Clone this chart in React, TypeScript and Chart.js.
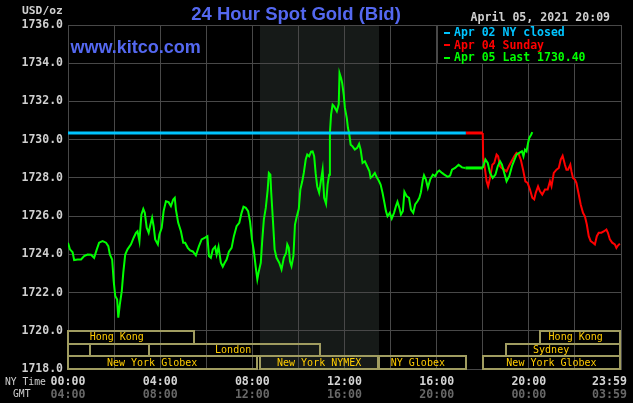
import React, { useEffect, useRef } from "react";
import { Chart, registerables } from "chart.js";

Chart.register(...registerables);

// ---- data (minutes after 00:00 NY time, price in USD/oz) ----
const cyanTimes = [0, 1036];
const cyanPrices = [1730.35, 1730.35];

const greenTimes = [
  0, 5, 12, 16, 25, 34, 42, 51, 60, 68, 75, 81, 90, 99, 105, 109, 115, 119, 123, 128,
  131, 135, 140, 144, 149, 155, 164, 171, 177, 181, 186, 191, 196, 200, 205, 210, 214, 219, 223, 227,
  234, 238, 244, 249, 255, 262, 268, 274, 278, 281, 287, 294, 300, 305, 312, 318, 325, 333, 341, 348,
  357, 363, 367, 372, 377, 383, 387, 392, 398, 403, 408, 413, 419, 426, 432, 439, 446, 452, 457, 463,
  469, 474, 479, 484, 489, 493, 497, 502, 506, 510, 515, 520, 523, 527, 529, 534, 538, 543, 550, 556,
  562, 568, 571, 575, 578, 582, 587, 591, 595, 601, 605, 610, 614, 619, 623, 628, 633, 637, 641, 645,
  649, 654, 659, 663, 667, 672, 676, 680, 682, 685, 689, 693, 700, 705, 707, 711, 714, 718, 721, 726,
  729, 732, 736, 741, 747, 753, 758, 762, 767, 773, 779, 785, 788, 793, 799, 804, 809, 814, 819, 824,
  828, 832, 838, 843, 849, 854, 858, 863, 867, 872, 876, 882, 888, 893, 899, 904, 910, 915, 919, 924,
  927, 932, 937, 943, 950, 956, 962, 967, 974, 980, 989, 995, 1000, 1008, 1017, 1026, 1035, 1080, 1087, 1093,
  1099, 1106, 1113, 1119, 1125, 1130, 1136, 1142, 1149, 1156, 1162, 1168, 1175, 1182, 1186, 1190, 1194, 1198, 1201, 1206,
  1209,
];
const greenPrices = [
  1724.61, 1724.26, 1724.11, 1723.7, 1723.73, 1723.73, 1723.91, 1723.99, 1723.98, 1723.82, 1724.26, 1724.61, 1724.69, 1724.61, 1724.43, 1723.99, 1723.73, 1722.6, 1721.82, 1721.64,
  1720.69, 1721.38, 1722.08, 1723.04, 1723.99, 1724.26, 1724.52, 1724.87, 1725.13, 1725.21, 1724.69, 1726.08, 1726.38, 1726.17, 1725.39, 1725.13, 1725.51, 1725.91, 1725.47, 1724.78,
  1724.52, 1725.04, 1725.39, 1726.26, 1726.78, 1726.73, 1726.52, 1726.87, 1726.96, 1726.34, 1725.65, 1725.21, 1724.61, 1724.61, 1724.34, 1724.2, 1724.15, 1723.94, 1724.43, 1724.78,
  1724.87, 1724.95, 1723.91, 1723.82, 1724.26, 1724.4, 1723.99, 1724.4, 1723.56, 1723.35, 1723.56, 1723.73, 1724.14, 1724.34, 1724.95, 1725.47, 1725.65, 1726.17, 1726.49, 1726.43,
  1726.26, 1725.73, 1724.78, 1724.17, 1723.3, 1722.69, 1723.12, 1723.56, 1724.78, 1725.82, 1726.43, 1727.39, 1728.26, 1728.17, 1727.3, 1725.65, 1724.26, 1723.82, 1723.56, 1723.21,
  1723.82, 1724.08, 1724.52, 1724.34, 1723.64, 1723.38, 1723.91, 1725.56, 1725.91, 1726.38, 1727.39, 1727.82, 1728.26, 1728.96, 1729.22, 1729.13, 1729.37, 1729.39, 1729.13, 1728.22,
  1727.55, 1727.22, 1727.91, 1728.43, 1726.96, 1726.64, 1727.65, 1728.17, 1730.35, 1731.31, 1731.83, 1731.74, 1731.48, 1731.86, 1733.48, 1733.22, 1732.96, 1732.35, 1731.66, 1731.13,
  1730.61, 1730.35, 1729.74, 1729.65, 1729.48, 1729.57, 1729.78, 1729.48, 1728.78, 1728.87, 1728.61, 1728.34, 1728.0, 1728.09, 1728.26, 1728.03, 1727.86, 1727.65, 1727.22, 1726.69,
  1726.26, 1725.99, 1726.17, 1725.87, 1726.17, 1726.52, 1726.75, 1726.43, 1726.08, 1726.26, 1727.27, 1727.04, 1726.96, 1726.34, 1726.17, 1726.61, 1726.78, 1726.96, 1727.25, 1727.91,
  1728.14, 1727.91, 1727.48, 1727.91, 1728.17, 1728.09, 1728.31, 1728.38, 1728.26, 1728.17, 1728.05, 1728.12, 1728.43, 1728.52, 1728.69, 1728.55, 1728.52, 1728.52, 1728.96, 1728.78,
  1728.26, 1728.0, 1728.17, 1728.61, 1728.87, 1728.69, 1728.26, 1727.82, 1728.09, 1728.61, 1728.92, 1729.22, 1729.31, 1729.39, 1729.13, 1729.48, 1729.39, 1729.83, 1730.09, 1730.26,
  1730.4,
];

const redTimes = [
  1036, 1080, 1081, 1086, 1090, 1094, 1099, 1105, 1110, 1116, 1120, 1125, 1129, 1136, 1142, 1148, 1155, 1162, 1168, 1174,
  1179, 1185, 1191, 1197, 1203, 1209, 1214, 1218, 1224, 1229, 1235, 1242, 1249, 1255, 1259, 1265, 1272, 1278, 1283, 1288,
  1294, 1298, 1302, 1308, 1311, 1315, 1320, 1324, 1330, 1335, 1341, 1346, 1351, 1356, 1361, 1367, 1372, 1377, 1382, 1389,
  1396, 1402, 1406, 1411, 1417, 1424, 1428, 1432, 1437,
];
const redPrices = [
  1730.35, 1730.35, 1729.13, 1728.43, 1727.82, 1727.56, 1728.0, 1728.69, 1728.78, 1729.22, 1729.13, 1728.61, 1728.52, 1728.43, 1728.34, 1728.61, 1728.87, 1729.13, 1729.31, 1729.22,
  1728.96, 1728.43, 1727.82, 1727.73, 1727.39, 1726.96, 1726.87, 1727.22, 1727.56, 1727.3, 1727.13, 1727.39, 1727.39, 1727.82, 1727.56, 1728.26, 1728.43, 1728.52, 1728.96, 1729.16,
  1728.69, 1728.43, 1728.43, 1728.69, 1728.34, 1728.0, 1727.91, 1727.73, 1727.13, 1726.61, 1726.17, 1725.99, 1725.56, 1724.95, 1724.69, 1724.61, 1724.52, 1724.95, 1725.13, 1725.13,
  1725.21, 1725.3, 1725.13, 1724.78, 1724.61, 1724.52, 1724.34, 1724.46, 1724.56,
];

const legendLabels = ["Apr 02 NY closed", "Apr 04 Sunday", "Apr 05 Last 1730.40"];

const xGridMinutes = [0, 120, 240, 360, 480, 600, 720, 840, 960, 1080, 1200, 1320, 1440];
const xLabelMinutes = [0, 240, 480, 720, 960, 1200, 1440];
const nyTimeLabels = ["00:00", "04:00", "08:00", "12:00", "16:00", "20:00", "23:59"];
const gmtLabels = ["04:00", "08:00", "12:00", "16:00", "20:00", "00:00", "03:59"];

const yMin = 1718;
const yMax = 1736;
const yStep = 2;

const nymexShade = [500, 810];

const sessionNames = ["Hong Kong", "", "London", "New York Globex", "New York NYMEX", "NY Globex", "New York Globex", "Hong Kong", "Sydney"];
const sessionStarts = [0, 0, 210, 0, 500, 810, 1080, 1230, 1140];
const sessionEnds = [330, 60, 660, 495, 810, 1040, 1440, 1440, 1440];
const sessionRows = [0, 1, 1, 2, 2, 2, 2, 0, 1];
const sessionLabelAt = [127, 0, 430, 219, 654, 911, 1259, 1322, 1258];

const titleText = "24 Hour Spot Gold (Bid)";
const siteText = "www.kitco.com";
const dateText = "April 05, 2021 20:09";
const unitText = "USD/oz";

// ---- styles ----
const CYAN = "#00c4ff";
const RED = "#ff0000";
const GREEN = "#00ff00";
const GRID = "#484848";
const BLUE = "#5468f0";
const MONO = "'DejaVu Sans Mono', monospace";
const SANS = "'Liberation Sans', Arial, sans-serif";

const pts = (xs: number[], ys: number[]) => xs.map((x, i) => ({ x, y: ys[i] }));

const flatWidth = (c: any) => {
  const a = c.p0.parsed, b = c.p1.parsed;
  return a.y === b.y && b.x - a.x > 20 ? 3 : undefined;
};

export default function App() {
  const ref = useRef<HTMLCanvasElement>(null);

  useEffect(() => {
    document.body.style.margin = "0";
    document.body.style.background = "#000";
    const canvas = ref.current!;

    const overlay = {
      id: "kitcoOverlay",
      beforeDraw(chart: any) {
        const c = chart.ctx;
        const { top, bottom } = chart.chartArea;
        const xs = chart.scales.x;
        c.save();
        c.fillStyle = "#000";
        c.fillRect(0, 0, chart.width, chart.height);
        const a = Math.round(xs.getPixelForValue(nymexShade[0]));
        const b = Math.round(xs.getPixelForValue(nymexShade[1]));
        c.fillStyle = "#161a18";
        c.fillRect(a, top, b - a, bottom - top);
        c.restore();
      },
      afterDatasetsDraw(chart: any) {
        const c = chart.ctx;
        const xs = chart.scales.x;
        const ys = chart.scales.y;
        c.save();
        // session boxes
        const rTop = ys.getPixelForValue(1720);
        const rBot = ys.getPixelForValue(1718);
        const rh = (rBot - rTop) / 3;
        c.lineWidth = 2;
        c.strokeStyle = "#a09c60";
        c.font = `10px ${MONO}`;
        c.textAlign = "center";
        c.textBaseline = "middle";
        for (let i = 0; i < sessionNames.length; i++) {
          const x0 = Math.round(xs.getPixelForValue(sessionStarts[i]));
          const x1 = Math.round(xs.getPixelForValue(sessionEnds[i])) - 1;
          const y0 = Math.round(rTop + sessionRows[i] * rh);
          const y1 = Math.round(rTop + (sessionRows[i] + 1) * rh);
          c.strokeRect(x0, y0, x1 - x0, y1 - y0);
        }
        c.fillStyle = "#ffcc00";
        for (let i = 0; i < sessionNames.length; i++) {
          if (!sessionNames[i]) continue;
          const cx = xs.getPixelForValue(sessionLabelAt[i]);
          const cy = rTop + (sessionRows[i] + 0.5) * rh + 0.5;
          c.fillText(sessionNames[i], cx, cy);
        }
        // legend box
        const lx = Math.round(xs.getPixelForValue(960)) + 0.5;
        const rx = Math.round(xs.getPixelForValue(1440)) + 0.5;
        const ty = Math.round(ys.getPixelForValue(1736)) + 0.5;
        const by = Math.round(ys.getPixelForValue(1734)) + 0.5;
        c.fillStyle = "#000";
        c.fillRect(lx, ty, rx - lx, by - ty);
        c.lineWidth = 1;
        c.strokeStyle = GRID;
        c.strokeRect(lx, ty, rx - lx, by - ty);
        const colors = [CYAN, RED, GREEN];
        c.font = `bold 11.5px ${MONO}`;
        c.textAlign = "left";
        for (let i = 0; i < legendLabels.length; i++) {
          const y = ty + 7.5 + i * 12.4;
          c.fillStyle = colors[i];
          c.fillRect(lx + 6.5, Math.round(y) - 1, 6, 2);
          c.fillText(legendLabels[i], lx + 16.5, y + 0.5);
        }
        c.restore();
      },
      afterDraw(chart: any) {
        const c = chart.ctx;
        const xs = chart.scales.x;
        c.save();
        c.textBaseline = "alphabetic";
        c.fillStyle = BLUE;
        c.font = `bold 18.5px ${SANS}`;
        c.textAlign = "center";
        c.fillText(titleText, 296, 20);
        c.textAlign = "left";
        c.font = `bold 18px ${SANS}`;
        c.fillText(siteText, 70.5, 53);

        c.textBaseline = "middle";
        c.fillStyle = "#d0d0d0";
        c.font = `bold 11.3px ${MONO}`;
        c.fillText(unitText, 22, 11.5);
        c.font = `bold 11.6px ${MONO}`;
        c.fillText(dateText, 470.5, 18);

        c.font = `9.7px ${MONO}`;
        c.fillText("NY Time", 5, 382);
        c.fillText("GMT", 13, 394.5);

        c.font = `bold 11.6px ${MONO}`;
        c.textAlign = "center";
        for (let i = 0; i < xLabelMinutes.length; i++) {
          const w = c.measureText(nyTimeLabels[i]).width;
          let x = xs.getPixelForValue(xLabelMinutes[i]);
          x = Math.min(x, chart.width - 6 - w / 2);
          c.fillStyle = "#d4d4d4";
          c.fillText(nyTimeLabels[i], x, 381.5);
          c.fillStyle = "#686868";
          c.fillText(gmtLabels[i], x, 394.5);
        }
        c.restore();
      },
    };

    const chart = new Chart(canvas, {
      type: "line",
      data: {
        datasets: [
          {
            label: legendLabels[0],
            data: pts(cyanTimes, cyanPrices),
            borderColor: CYAN,
            borderWidth: 3,
            pointRadius: 0,
            tension: 0,
          },
          {
            label: legendLabels[2],
            data: pts(greenTimes, greenPrices),
            borderColor: GREEN,
            borderWidth: 2,
            pointRadius: 0,
            tension: 0,
            segment: { borderWidth: flatWidth },
          },
          {
            label: legendLabels[1],
            data: pts(redTimes, redPrices),
            borderColor: RED,
            borderWidth: 2,
            pointRadius: 0,
            tension: 0,
            segment: { borderWidth: flatWidth },
          },
        ],
      } as any,
      options: {
        animation: false,
        responsive: false,
        devicePixelRatio: 1,
        layout: { padding: { top: 25, right: 12, left: 0, bottom: 0 } },
        plugins: { legend: { display: false }, tooltip: { enabled: false } },
        events: [],
        scales: {
          x: {
            type: "linear",
            min: 0,
            max: 1440,
            afterBuildTicks: (s: any) => {
              s.ticks = xGridMinutes.map((v) => ({ value: v }));
            },
            afterFit: (s: any) => {
              s.height = 34;
            },
            ticks: { display: false },
            grid: { color: GRID, drawTicks: false, lineWidth: 1 },
            border: { color: GRID },
          },
          y: {
            type: "linear",
            min: yMin,
            max: yMax,
            afterFit: (s: any) => {
              s.width = 68;
            },
            ticks: {
              stepSize: yStep,
              color: "#d0d0d0",
              padding: 5,
              font: { family: MONO, size: 11.5, weight: "bold" },
              callback: (v: any) => Number(v).toFixed(1),
            },
            grid: { color: GRID, drawTicks: false, lineWidth: 1 },
            border: { color: GRID },
          },
        },
      } as any,
      plugins: [overlay],
    });
    return () => chart.destroy();
  }, []);

  return (
    <div style={{ position: "fixed", left: 0, top: 0, width: 633, height: 403, background: "#000" }}>
      <canvas ref={ref} width={633} height={403} style={{ display: "block", width: 633, height: 403 }} />
    </div>
  );
}
